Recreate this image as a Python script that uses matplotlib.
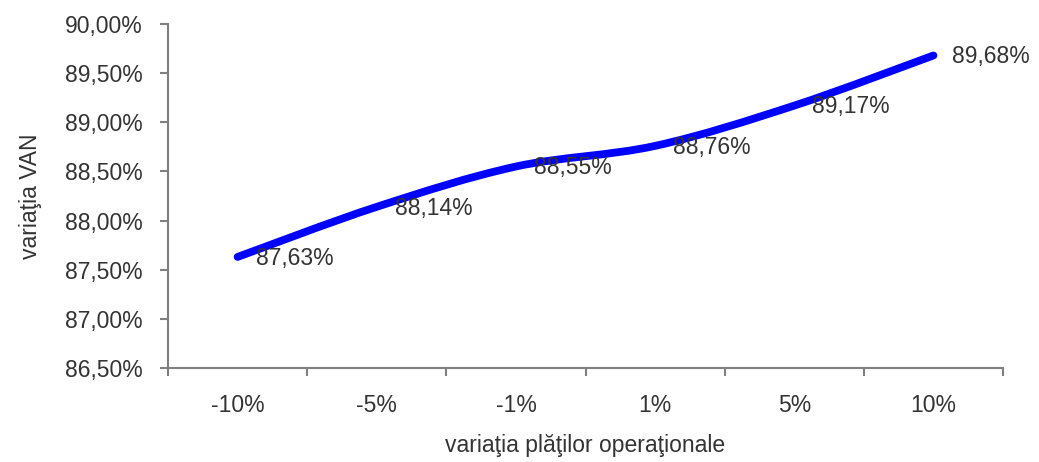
import matplotlib
matplotlib.use('Agg')
import matplotlib.pyplot as plt
from matplotlib.path import Path
from matplotlib.patches import PathPatch
from matplotlib.ticker import FixedLocator, FuncFormatter

plt.rcParams['font.family'] = ['Liberation Sans', 'DejaVu Sans']

# sensitivity of NPV to operational payments
categories = ['-10%', '-5%', '-1%', '1%', '5%', '10%']
van_values = [87.63, 88.14, 88.55, 88.76, 89.17, 89.68]
y_ticks = [86.5, 87.0, 87.5, 88.0, 88.5, 89.0, 89.5, 90.0]

text_color = '#333333'
axis_color = '#7f7f7f'
fs = 16.5

fig = plt.figure(figsize=(10.39, 4.62), dpi=100)
ax = fig.add_axes([0.1617, 0.2035, 0.8037, 0.7445])

xs = list(range(len(categories)))

# smoothed line (Catmull-Rom style bezier, like spreadsheet "smoothed line")
verts = [(xs[0], van_values[0])]
codes = [Path.MOVETO]
pts = list(zip(xs, van_values))
for i in range(len(pts) - 1):
    p0 = pts[i - 1] if i > 0 else pts[i]
    p1 = pts[i]
    p2 = pts[i + 1]
    p3 = pts[i + 2] if i + 2 < len(pts) else pts[i + 1]
    c1 = (p1[0] + (p2[0] - p0[0]) / 6, p1[1] + (p2[1] - p0[1]) / 6)
    c2 = (p2[0] - (p3[0] - p1[0]) / 6, p2[1] - (p3[1] - p1[1]) / 6)
    verts += [c1, c2, p2]
    codes += [Path.CURVE4] * 3
patch = PathPatch(Path(verts, codes), facecolor='none', edgecolor='#0000ff',
                  linewidth=5.6, capstyle='round', joinstyle='round')
ax.add_patch(patch)

for x, v in zip(xs, van_values):
    ax.annotate(f'{v:.2f}%'.replace('.', ','), (x, v), xytext=(13, -1),
                textcoords='offset points', ha='left', va='center',
                fontsize=fs, color=text_color)

ax.set_xlim(-0.5, len(categories) - 0.5)
ax.set_ylim(86.5, 90.0)

# category boundaries carry the tick marks, labels sit in the middle
ax.xaxis.set_major_locator(FixedLocator([i - 0.5 for i in range(len(categories) + 1)]))
ax.xaxis.set_major_formatter(FuncFormatter(lambda v, p: ''))
ax.xaxis.set_minor_locator(FixedLocator(xs))
ax.set_xticks(xs, categories, minor=True)
ax.tick_params(axis='x', which='major', direction='out', length=6, width=1.5,
               color=axis_color)
ax.tick_params(axis='x', which='minor', length=0, pad=19, labelsize=fs,
               labelcolor=text_color)

ax.set_yticks(y_ticks)
ax.yaxis.set_major_formatter(FuncFormatter(lambda v, p: f'{v:.2f}%'.replace('.', ',')))
ax.tick_params(axis='y', direction='out', length=6, width=1.5, color=axis_color,
               labelsize=fs, labelcolor=text_color, pad=12)

for side in ['top', 'right']:
    ax.spines[side].set_visible(False)
for side in ['left', 'bottom']:
    ax.spines[side].set_color(axis_color)
    ax.spines[side].set_linewidth(1.5)

ax.set_xlabel('variaţia plăţilor operaţionale', fontsize=fs, color=text_color,
              labelpad=12)
ax.set_ylabel('variaţia VAN', fontsize=fs, color=text_color, labelpad=17)

fig.savefig('out.png', dpi=100)
